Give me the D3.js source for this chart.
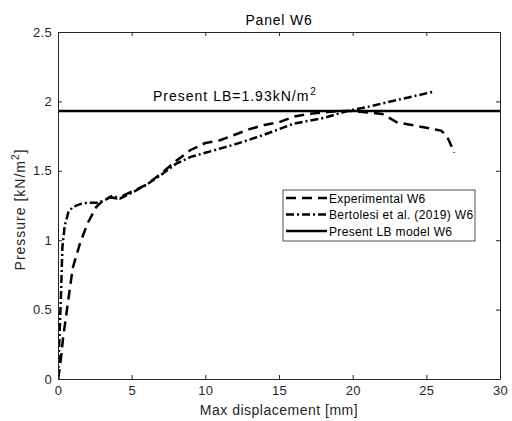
<!DOCTYPE html>
<html><head><meta charset="utf-8">
<script src="https://cdn.jsdelivr.net/npm/d3@7"></script>
<style>body{margin:0;background:#fff}svg{display:block;font-family:"Liberation Sans",Arial,sans-serif}</style>
</head><body><svg id="c" width="512" height="421"></svg>
<script>
const xTicks=[0,5,10,15,20,25,30];
const yTicks=[0,0.5,1,1.5,2,2.5];
const expX=[0,0.15,0.35,0.7,1.0,1.5,2.0,2.6,3.0,3.5,4.0,5,6,7,8,9,10,11,12,13,14,15,16,17,18,19,20,21,22,23,24,25,26,26.4,26.9];
const expY=[0,0.1,0.3,0.57,0.8,0.98,1.12,1.24,1.28,1.31,1.30,1.35,1.40,1.48,1.57,1.65,1.70,1.72,1.76,1.80,1.83,1.85,1.89,1.91,1.92,1.93,1.93,1.92,1.91,1.85,1.83,1.81,1.79,1.75,1.63];
const berX=[0,0.1,0.2,0.3,0.45,0.7,1.0,1.5,2.0,2.7,3.2,3.7,4.2,5,6,7,8,9,10,12,14,15,16,18,19.6,21,23,25.5];
const berY=[0,0.3,0.6,0.95,1.1,1.2,1.24,1.26,1.27,1.27,1.29,1.32,1.30,1.34,1.40,1.47,1.55,1.60,1.63,1.69,1.76,1.80,1.84,1.88,1.93,1.96,2.01,2.07];
const lbValue=1.93;
const legendLabels=["Experimental W6","Bertolesi et al. (2019) W6","Present LB model W6"];

const svg=d3.select("#c");
const L=58,R=500,T=32,B=379;
const x=d3.scaleLinear().domain([0,30]).range([L,R]);
const y=d3.scaleLinear().domain([0,2.5]).range([B,T]);
const col="#262626";

const line=d3.line().x(d=>x(d[0])).y(d=>y(d[1]));
svg.append("clipPath").attr("id","cp").append("rect").attr("x",L).attr("y",T).attr("width",R-L).attr("height",B-T);
const g=svg.append("g").attr("clip-path","url(#cp)");

const styles=[{dash:"10,6"},{dash:"8,3,2,3"},{dash:null}];
g.append("path").datum(expX.map((v,i)=>[v,expY[i]])).attr("d",line).attr("fill","none").attr("stroke","#000").attr("stroke-width",2.5).attr("stroke-dasharray",styles[0].dash);
g.append("path").datum(berX.map((v,i)=>[v,berY[i]])).attr("d",line).attr("fill","none").attr("stroke","#000").attr("stroke-width",2.5).attr("stroke-dasharray",styles[1].dash);
g.append("path").datum([[0,lbValue],[30,lbValue]]).attr("d",line).attr("fill","none").attr("stroke","#000").attr("stroke-width",2.5);

const styleTicks=s=>{s.selectAll("text").attr("font-size",13).attr("fill",col).attr("font-family","Liberation Sans,Arial").attr("letter-spacing",0.3);s.selectAll("line,path").attr("stroke",col);};
svg.append("g").attr("transform",`translate(0,${B})`).call(d3.axisBottom(x).tickValues(xTicks).tickSizeInner(-4).tickSizeOuter(0).tickPadding(7)).call(styleTicks);
svg.append("g").attr("transform",`translate(${L},0)`).call(d3.axisLeft(y).tickValues(yTicks).tickFormat(d=>d).tickSizeInner(-4).tickSizeOuter(0).tickPadding(6)).call(styleTicks);
svg.append("g").attr("transform",`translate(0,${T})`).call(d3.axisTop(x).tickValues(xTicks).tickSizeInner(-4).tickSizeOuter(0).tickFormat(""))
 .call(s=>s.selectAll("line,path").attr("stroke",col));
svg.append("g").attr("transform",`translate(${R},0)`).call(d3.axisRight(y).tickValues(yTicks).tickSizeInner(-4).tickSizeOuter(0).tickFormat(""))
 .call(s=>s.selectAll("line,path").attr("stroke",col));

svg.append("text").attr("x",(L+R)/2).attr("y",25).attr("text-anchor","middle").attr("font-size",14).attr("letter-spacing",0.8).attr("fill","#000").text("Panel W6");
svg.append("text").attr("x",(L+R)/2).attr("y",415).attr("text-anchor","middle").attr("font-size",14).attr("letter-spacing",0.5).attr("fill",col).text("Max displacement [mm]");
const yl=svg.append("text").attr("transform",`translate(25,${(T+B)/2+4}) rotate(-90)`).attr("text-anchor","middle").attr("font-size",14).attr("letter-spacing",1).attr("fill",col);
yl.append("tspan").text("Pressure [kN/m");
yl.append("tspan").attr("font-size",10).attr("dy",-6).text("2");
yl.append("tspan").attr("dy",6).text("]");

const an=svg.append("text").attr("x",153).attr("y",y(lbValue)-10).attr("font-size",14).attr("letter-spacing",1).attr("fill","#000");
an.append("tspan").text("Present LB="+lbValue+"kN/m");
an.append("tspan").attr("font-size",10).attr("dy",-6).attr("dx",1).text("2");

const lg=svg.append("g");
lg.append("rect").attr("x",283).attr("y",190).attr("width",192).attr("height",51).attr("fill","#fff").attr("stroke",col).attr("stroke-width",0.8);
legendLabels.forEach((t,i)=>{
  const yy=198+i*16.5;
  lg.append("line").attr("x1",286).attr("x2",327).attr("y1",yy).attr("y2",yy).attr("stroke","#000").attr("stroke-width",2.5).attr("stroke-dasharray",styles[i].dash);
  lg.append("text").attr("x",329).attr("y",yy+4.5).attr("font-size",12).attr("letter-spacing",0.35).attr("fill","#000").text(t);
});
</script></body></html>
